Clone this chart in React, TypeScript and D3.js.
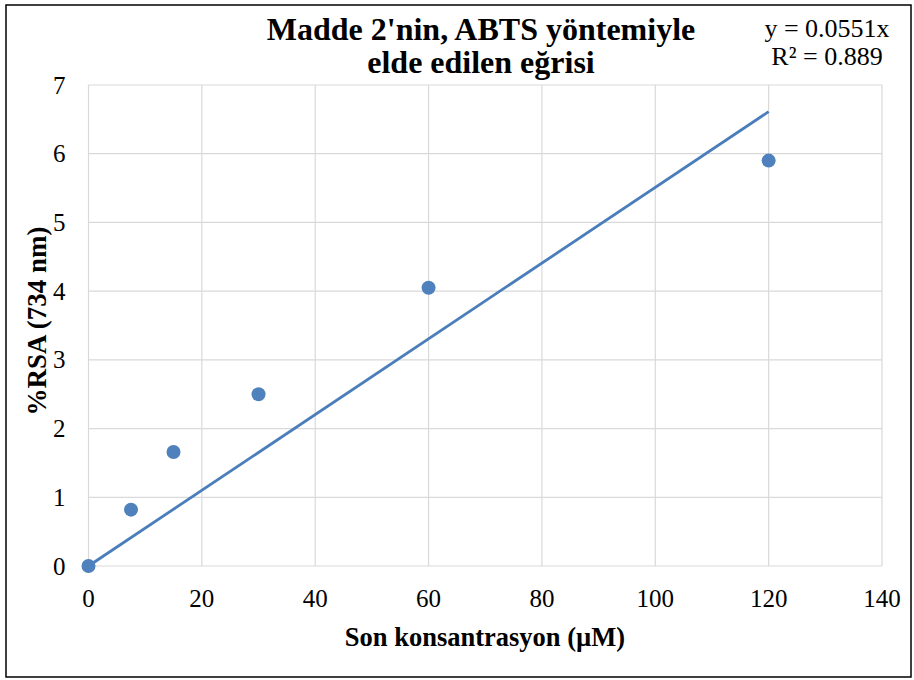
import React, { useEffect, useRef } from 'react';
import * as d3 from 'd3';

// measured points
const concentrations = [0, 7.5, 15, 30, 60, 120];
const rsaValues = [0, 0.82, 1.66, 2.5, 4.05, 5.9];
const xTicks = [0, 20, 40, 60, 80, 100, 120, 140];
const yTicks = [0, 1, 2, 3, 4, 5, 6, 7];
const slope = 0.0551;
const titleLines = ["Madde 2'nin, ABTS yöntemiyle", 'elde edilen eğrisi'];
const equationLines = ['y = 0.0551x', 'R² = 0.889'];

const W = 914;
const H = 680;
const margin = { top: 85, right: 32, bottom: 114, left: 88.5 };
const FONT = "Liberation Serif, 'DejaVu Serif'";

export default function App() {
  const ref = useRef<SVGSVGElement>(null);

  useEffect(() => {
    const svg = d3.select(ref.current);
    svg.selectAll('*').remove();

    const width = W - margin.left - margin.right;
    const height = H - margin.top - margin.bottom;

    const x = d3.scaleLinear().domain([0, 140]).range([margin.left, margin.left + width]);
    const y = d3.scaleLinear().domain([0, 7]).range([margin.top + height, margin.top]);

    svg.append('rect')
      .attr('x', 0).attr('y', 0).attr('width', W).attr('height', H)
      .attr('fill', '#fff');

    // outer chart border
    svg.append('rect')
      .attr('x', 6).attr('y', 5).attr('width', W - 9).attr('height', H - 8)
      .attr('fill', 'none').attr('stroke', '#000').attr('stroke-width', 1.5);

    // gridlines
    svg.append('g').selectAll('line').data(xTicks).join('line')
      .attr('x1', d => x(d)).attr('x2', d => x(d))
      .attr('y1', y(0)).attr('y2', y(7))
      .attr('stroke', '#d9d9d9').attr('stroke-width', 1.2);
    svg.append('g').selectAll('line').data(yTicks).join('line')
      .attr('x1', x(0)).attr('x2', x(140))
      .attr('y1', d => y(d)).attr('y2', d => y(d))
      .attr('stroke', '#d9d9d9').attr('stroke-width', 1.2);

    // tick labels
    svg.append('g').selectAll('text').data(xTicks).join('text')
      .attr('x', d => x(d)).attr('y', y(0) + 41)
      .attr('text-anchor', 'middle')
      .attr('font-size', 25)
      .text(d => d);
    svg.append('g').selectAll('text').data(yTicks).join('text')
      .attr('x', x(0) - 23).attr('y', d => y(d) + 8.5)
      .attr('text-anchor', 'end')
      .attr('font-size', 25)
      .text(d => d);

    // trend line
    const trend = d3.line<number>().x(d => x(d)).y(d => y(d * slope));
    svg.append('path')
      .datum([0, 120])
      .attr('fill', 'none').attr('stroke', '#4a7ebb').attr('stroke-width', 2.8)
      .attr('d', trend);

    // points
    svg.append('g').selectAll('circle').data(concentrations).join('circle')
      .attr('cx', d => x(d)).attr('cy', (d, i) => y(rsaValues[i]))
      .attr('r', 7).attr('fill', '#4f81bd');

    // title
    svg.append('text')
      .attr('x', 481).attr('y', 40)
      .attr('text-anchor', 'middle')
      .attr('font-size', 32).attr('font-weight', 'bold')
      .selectAll('tspan').data(titleLines).join('tspan')
      .attr('x', 481).attr('dy', (d, i) => (i === 0 ? 0 : 33))
      .text(d => d);

    // equation
    svg.append('text')
      .attr('x', 827).attr('y', 37)
      .attr('text-anchor', 'middle')
      .attr('font-size', 26)
      .selectAll('tspan').data(equationLines).join('tspan')
      .attr('x', 827).attr('dy', (d, i) => (i === 0 ? 0 : 28))
      .text(d => d);

    // axis titles
    svg.append('text')
      .attr('x', 485).attr('y', 646)
      .attr('text-anchor', 'middle')
      .attr('font-size', 26.5).attr('font-weight', 'bold')
      .text('Son konsantrasyon (µM)');
    svg.append('text')
      .attr('transform', 'translate(46,321) rotate(-90)')
      .attr('text-anchor', 'middle')
      .attr('font-size', 27).attr('font-weight', 'bold')
      .text('%RSA (734 nm)');
  }, []);

  return (
    <svg ref={ref} width={W} height={H} fontFamily={FONT}
      style={{ position: 'absolute', left: 0, top: 0 }} />
  );
}
